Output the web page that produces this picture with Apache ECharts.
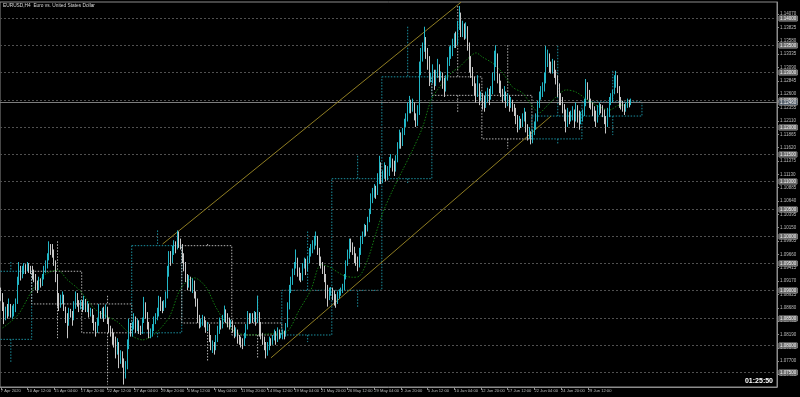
<!DOCTYPE html>
<html><head><meta charset="utf-8">
<script src="https://cdn.jsdelivr.net/npm/echarts@6/dist/echarts.min.js"></script>
<style>html,body{margin:0;padding:0;background:#000;}#c{width:800px;height:397px;}</style>
</head><body><div id="c"></div>
<script>
// ---- time axis tick labels (one every 16 H4 bars) ----
const timeLabels = ['7 Apr 2020','10 Apr 12:00','15 Apr 04:00','17 Apr 20:00','22 Apr 12:00','27 Apr 04:00','29 Apr 20:00','4 May 12:00','7 May 04:00','11 May 20:00','14 May 12:00','19 May 04:00','21 May 20:00','26 May 12:00','29 May 04:00','2 Jun 20:00','5 Jun 12:00','10 Jun 04:00','12 Jun 20:00','17 Jun 12:00','22 Jun 04:00','24 Jun 20:00','29 Jun 12:00','2 Jul 04:00'];
const slotCount = 466;
// ---- price axis labels and round levels ----
const priceTicks = [1.14070,1.13825,1.13580,1.13335,1.13090,1.12845,1.12600,1.12355,1.12110,1.11865,1.11620,1.11375,1.11130,1.10885,1.10640,1.10395,1.10150,1.09905,1.09660,1.09415,1.09170,1.08925,1.08680,1.08435,1.08190,1.07945,1.07700,1.07455];
const levels = [1.140,1.135,1.130,1.125,1.120,1.115,1.110,1.105,1.100,1.095,1.090,1.085,1.080,1.075];
const lastPrice = 1.12460;
const firstOpen = 1.0895;
// ---- H4 closes ----
const closes = [1.0890,
1.0872,1.0850,1.0862,1.0858,1.0870,1.0855, 1.0860,1.0866,1.0878,1.0915,1.0935,1.0925, 1.0935,1.0942,1.0938,1.0945,1.0940,1.0937,
1.0930,1.0925,1.0912,1.0905,1.0915,1.0913, 1.0925,1.0938,1.0945,1.0960,1.0978,1.0975, 1.0970,1.0950,1.0925,1.0885,1.0875,1.0880, 1.0890,1.0868,1.0850,1.0838,1.0860,1.0857, 1.0850,1.0872,1.0890,1.0878,1.0868,1.0875,
1.0870,1.0880,1.0868,1.0872,1.0858,1.0862, 1.0850,1.0838,1.0828,1.0840,1.0858,1.0855, 1.0860,1.0852,1.0868,1.0845,1.0830,1.0822, 1.0810,1.0808,1.0790,1.0800,1.0770,1.0780, 1.0770,1.0745,1.0760,1.0800,1.0835,1.0825,
1.0835,1.0848,1.0830,1.0840,1.0828,1.0825, 1.0845,1.0870,1.0855,1.0838,1.0815,1.0822, 1.0830,1.0845,1.0850,1.0860,1.0878,1.0872, 1.0868,1.0875,1.0890,1.0935,1.0960,1.0955, 1.0970,1.0985,1.0978,1.0995,1.0990,1.0982,
1.0960,1.0948,1.0925,1.0910,1.0920,1.0905, 1.0915,1.0895,1.0880,1.0850,1.0838,1.0840, 1.0848,1.0842,1.0830,1.0835,1.0815,1.0795, 1.0800,1.0795,1.0810,1.0825,1.0840,1.0835, 1.0848,1.0860,1.0850,1.0845,1.0835,1.0840,
1.0832,1.0820,1.0825,1.0812,1.0808,1.0805, 1.0800,1.0815,1.0830,1.0852,1.0845,1.0850, 1.0848,1.0855,1.0845,1.0852,1.0838,1.0818, 1.0810,1.0798,1.0785,1.0795,1.0808,1.0805, 1.0812,1.0820,1.0808,1.0825,1.0815,1.0818,
1.0822,1.0818,1.0835,1.0870,1.0900,1.0915, 1.0935,1.0945,1.0955,1.0935,1.0928,1.0925, 1.0945,1.0952,1.0940,1.0955,1.0970,1.0975, 1.0985,1.0990,1.0995,1.0972,1.0955,1.0948, 1.0940,1.0925,1.0900,1.0890,1.0895,1.0900,
1.0895,1.0885,1.0880,1.0890,1.0895,1.0898, 1.0905,1.0925,1.0950,1.0965,1.0985,1.0980, 1.0975,1.0962,1.0955,1.0948,1.0970,1.0990, 1.1000,1.1015,1.1010,1.1028,1.1045,1.1070, 1.1078,1.1085,1.1080,1.1100,1.1130,1.1105,
1.1112,1.1125,1.1108,1.1118,1.1135,1.1135, 1.1130,1.1122,1.1140,1.1165,1.1180,1.1170, 1.1190,1.1205,1.1215,1.1230,1.1240,1.1235, 1.1240,1.1220,1.1210,1.1225,1.1300,1.1335, 1.1345,1.1360,1.1335,1.1320,1.1290,1.1292,
1.1300,1.1280,1.1295,1.1310,1.1290,1.1295, 1.1285,1.1270,1.1290,1.1320,1.1335,1.1340, 1.1350,1.1365,1.1360,1.1385,1.1400,1.1375, 1.1385,1.1372,1.1380,1.1350,1.1320,1.1300, 1.1285,1.1270,1.1262,1.1275,1.1255,1.1258,
1.1245,1.1238,1.1250,1.1262,1.1255,1.1265, 1.1290,1.1325,1.1330,1.1290,1.1275,1.1265, 1.1255,1.1262,1.1245,1.1250,1.1240,1.1245, 1.1238,1.1230,1.1218,1.1200,1.1210,1.1205, 1.1215,1.1222,1.1200,1.1185,1.1190,1.1178,
1.1190,1.1200,1.1215,1.1240,1.1255,1.1262, 1.1270,1.1285,1.1320,1.1330,1.1312,1.1308, 1.1315,1.1300,1.1290,1.1275,1.1255,1.1250, 1.1235,1.1225,1.1210,1.1222,1.1215,1.1220, 1.1228,1.1215,1.1232,1.1225,1.1212,1.1220,
1.1225,1.1240,1.1275,1.1262,1.1245,1.1240, 1.1230,1.1222,1.1215,1.1228,1.1235,1.1234, 1.1228,1.1215,1.1205,1.1222,1.1245,1.1250, 1.1262,1.1285,1.1290,1.1270,1.1248,1.1242, 1.1235,1.1230,1.1238,1.1245,1.1242,1.1246];
// ---- H4 highs ----
const highs = [1.0905,
1.0895,1.0878,1.0870,1.0875,1.0885,1.0875, 1.0872,1.0875,1.0885,1.0925,1.0952,1.0945, 1.0945,1.0950,1.0948,1.0952,1.0950,1.0945,
1.0945,1.0938,1.0930,1.0918,1.0925,1.0922, 1.0930,1.0945,1.0955,1.0968,1.0990,1.0985, 1.0985,1.0975,1.0955,1.0930,1.0895,1.0892, 1.0898,1.0892,1.0870,1.0858,1.0868,1.0866, 1.0862,1.0880,1.0898,1.0895,1.0882,1.0882,
1.0882,1.0890,1.0884,1.0880,1.0875,1.0868, 1.0866,1.0855,1.0842,1.0850,1.0875,1.0862, 1.0868,1.0870,1.0874,1.0870,1.0850,1.0835, 1.0830,1.0822,1.0815,1.0812,1.0805,1.0790, 1.0788,1.0775,1.0770,1.0810,1.0848,1.0840,
1.0842,1.0858,1.0852,1.0848,1.0845,1.0835, 1.0850,1.0888,1.0878,1.0860,1.0842,1.0830, 1.0838,1.0852,1.0858,1.0868,1.0890,1.0888, 1.0880,1.0882,1.0898,1.0945,1.0972,1.0972, 1.0982,1.0992,1.0990,1.1010,1.1008,1.0995,
1.0985,1.0968,1.0952,1.0930,1.0928,1.0925, 1.0922,1.0918,1.0898,1.0885,1.0855,1.0848, 1.0855,1.0852,1.0845,1.0842,1.0838,1.0818, 1.0808,1.0805,1.0818,1.0835,1.0850,1.0845, 1.0855,1.0872,1.0865,1.0858,1.0850,1.0846,
1.0845,1.0836,1.0832,1.0828,1.0818,1.0815, 1.0812,1.0822,1.0838,1.0862,1.0858,1.0858, 1.0858,1.0862,1.0860,1.0890,1.0860,1.0842, 1.0822,1.0815,1.0805,1.0805,1.0815,1.0812, 1.0818,1.0828,1.0825,1.0832,1.0828,1.0822,
1.0828,1.0826,1.0840,1.0878,1.0910,1.0925, 1.0940,1.0952,1.0975,1.0960,1.0942,1.0932, 1.0950,1.0960,1.0958,1.0962,1.0978,1.0985, 1.0992,1.1000,1.1008,1.1000,1.0978,1.0962, 1.0952,1.0945,1.0930,1.0910,1.0905,1.0906,
1.0905,1.0900,1.0893,1.0898,1.0902,1.0905, 1.0912,1.0930,1.0955,1.0975,1.0995,1.0995, 1.0988,1.0980,1.0968,1.0962,1.0978,1.1000, 1.1008,1.1022,1.1020,1.1035,1.1050,1.1078, 1.1088,1.1095,1.1092,1.1115,1.1147,1.1135,
1.1120,1.1135,1.1130,1.1128,1.1145,1.1150, 1.1142,1.1138,1.1148,1.1172,1.1195,1.1190, 1.1198,1.1215,1.1225,1.1245,1.1257,1.1250, 1.1252,1.1245,1.1225,1.1240,1.1320,1.1345, 1.1355,1.1384,1.1365,1.1345,1.1330,1.1300,
1.1315,1.1305,1.1305,1.1325,1.1315,1.1302, 1.1300,1.1290,1.1295,1.1328,1.1348,1.1350, 1.1362,1.1372,1.1375,1.1395,1.1422,1.1410, 1.1395,1.1390,1.1392,1.1385,1.1355,1.1330, 1.1310,1.1292,1.1280,1.1295,1.1280,1.1265,
1.1262,1.1258,1.1265,1.1272,1.1270,1.1275, 1.1300,1.1340,1.1350,1.1335,1.1298,1.1285, 1.1270,1.1275,1.1265,1.1262,1.1258,1.1255, 1.1250,1.1242,1.1235,1.1222,1.1220,1.1215, 1.1225,1.1235,1.1228,1.1205,1.1200,1.1192,
1.1195,1.1210,1.1225,1.1248,1.1265,1.1275, 1.1282,1.1300,1.1349,1.1342,1.1335,1.1320, 1.1325,1.1322,1.1305,1.1295,1.1280,1.1262, 1.1255,1.1242,1.1232,1.1235,1.1228,1.1230, 1.1238,1.1232,1.1245,1.1240,1.1230,1.1228,
1.1232,1.1252,1.1288,1.1282,1.1268,1.1252, 1.1245,1.1238,1.1230,1.1240,1.1245,1.1242, 1.1240,1.1232,1.1220,1.1235,1.1255,1.1262, 1.1268,1.1295,1.1303,1.1295,1.1275,1.1255, 1.1248,1.1242,1.1245,1.1252,1.1250,1.1252];
// ---- H4 lows ----
const lows = [1.0880,
1.0862,1.0838,1.0845,1.0848,1.0852,1.0850, 1.0848,1.0852,1.0860,1.0875,1.0910,1.0918, 1.0922,1.0930,1.0930,1.0935,1.0932,1.0930,
1.0920,1.0915,1.0900,1.0895,1.0900,1.0905, 1.0908,1.0920,1.0932,1.0940,1.0955,1.0965, 1.0960,1.0945,1.0915,1.0870,1.0862,1.0868, 1.0875,1.0862,1.0840,1.0812,1.0835,1.0850, 1.0835,1.0845,1.0866,1.0870,1.0860,1.0865,
1.0860,1.0864,1.0860,1.0860,1.0850,1.0852, 1.0840,1.0826,1.0815,1.0822,1.0835,1.0848, 1.0848,1.0842,1.0848,1.0838,1.0822,1.0815, 1.0800,1.0795,1.0775,1.0782,1.0757,1.0765, 1.0758,1.0727,1.0738,1.0755,1.0792,1.0815,
1.0815,1.0828,1.0822,1.0825,1.0820,1.0818, 1.0820,1.0840,1.0848,1.0828,1.0812,1.0812, 1.0815,1.0825,1.0838,1.0845,1.0852,1.0862, 1.0858,1.0862,1.0868,1.0885,1.0925,1.0945, 1.0950,1.0965,1.0968,1.0975,1.0978,1.0975,
1.0950,1.0935,1.0915,1.0900,1.0905,1.0898, 1.0895,1.0885,1.0870,1.0840,1.0830,1.0832, 1.0835,1.0832,1.0822,1.0825,1.0805,1.0790, 1.0785,1.0782,1.0790,1.0805,1.0820,1.0828, 1.0830,1.0842,1.0840,1.0832,1.0828,1.0832,
1.0822,1.0812,1.0815,1.0802,1.0800,1.0795, 1.0792,1.0798,1.0812,1.0828,1.0838,1.0840, 1.0840,1.0842,1.0835,1.0840,1.0815,1.0810, 1.0800,1.0790,1.0775,1.0780,1.0790,1.0798, 1.0800,1.0808,1.0800,1.0805,1.0810,1.0812,
1.0810,1.0810,1.0815,1.0832,1.0865,1.0895, 1.0910,1.0928,1.0940,1.0925,1.0918,1.0915, 1.0918,1.0940,1.0928,1.0935,1.0950,1.0962, 1.0968,1.0975,1.0982,1.0965,1.0945,1.0940, 1.0930,1.0915,1.0885,1.0870,1.0882,1.0890,
1.0882,1.0872,1.0868,1.0875,1.0885,1.0890, 1.0895,1.0900,1.0920,1.0945,1.0958,1.0970, 1.0965,1.0950,1.0945,1.0935,1.0942,1.0965, 1.0985,1.0998,1.1000,1.1008,1.1025,1.1040, 1.1060,1.1070,1.1068,1.1075,1.1095,1.1095,
1.1097,1.1105,1.1100,1.1102,1.1110,1.1125, 1.1118,1.1110,1.1118,1.1135,1.1160,1.1160, 1.1165,1.1185,1.1200,1.1210,1.1225,1.1225, 1.1228,1.1212,1.1200,1.1202,1.1222,1.1295, 1.1320,1.1338,1.1325,1.1305,1.1275,1.1282,
1.1280,1.1268,1.1275,1.1290,1.1282,1.1285, 1.1270,1.1255,1.1265,1.1285,1.1312,1.1325, 1.1330,1.1345,1.1345,1.1350,1.1378,1.1365, 1.1365,1.1360,1.1362,1.1340,1.1300,1.1290, 1.1275,1.1258,1.1245,1.1255,1.1240,1.1248,
1.1232,1.1228,1.1235,1.1245,1.1240,1.1250, 1.1260,1.1285,1.1310,1.1280,1.1262,1.1255, 1.1245,1.1248,1.1235,1.1238,1.1228,1.1235, 1.1228,1.1220,1.1205,1.1190,1.1195,1.1198, 1.1200,1.1210,1.1190,1.1175,1.1178,1.1168,
1.1170,1.1185,1.1195,1.1210,1.1235,1.1250, 1.1255,1.1265,1.1280,1.1310,1.1300,1.1298, 1.1298,1.1290,1.1278,1.1255,1.1240,1.1240, 1.1225,1.1210,1.1190,1.1200,1.1205,1.1210, 1.1212,1.1198,1.1210,1.1208,1.1195,1.1205,
1.1210,1.1220,1.1238,1.1250,1.1235,1.1232, 1.1220,1.1210,1.1200,1.1208,1.1222,1.1225, 1.1218,1.1205,1.1188,1.1200,1.1218,1.1240, 1.1245,1.1260,1.1272,1.1262,1.1235,1.1232, 1.1228,1.1222,1.1228,1.1235,1.1236,1.1240];
// ---- weekly candles overlay: [firstBar, lastBar, open, close, high, low] ----
const weeks = [
[-7,18,1.0810,1.0935,1.0952,1.0768],
[19,48,1.0935,1.0875,1.0990,1.0812],
[49,78,1.0875,1.0822,1.0890,1.0727],
[79,108,1.0822,1.0982,1.1010,1.0812],
[109,138,1.0982,1.0840,1.0985,1.0770],
[139,168,1.0840,1.0818,1.0890,1.0775],
[169,198,1.0818,1.0900,1.1008,1.0805],
[199,228,1.0900,1.1105,1.1147,1.0868],
[229,258,1.1105,1.1292,1.1384,1.1097],
[259,288,1.1292,1.1258,1.1422,1.1225],
[289,318,1.1258,1.1178,1.1350,1.1160],
[319,348,1.1178,1.1220,1.1349,1.1168],
[349,384,1.1220,1.1246,1.1303,1.1185]];
// ---- moving average ----
const maPoints = [[1,1.0831],[5,1.0840],[11,1.0858],[19,1.0901],[26,1.0928],[34,1.0937],[40,1.0919],[47,1.0901],[57,1.0864],[70,1.0842],[75,1.0827],[80,1.0814],[85,1.0809],[93,1.0822],[101,1.0851],[108,1.0904],[116,1.0923],[123,1.0906],[129,1.0869],[135,1.0840],[141,1.0823],[149,1.0818],[161,1.0820],[171,1.0823],[179,1.0864],[186,1.0901],[192,1.0947],[197,1.0943],[205,1.0928],[211,1.0924],[215,1.0926],[220,1.0956],[225,1.1005],[229,1.1042],[235,1.1084],[241,1.1121],[247,1.1158],[253,1.1200],[258,1.1249],[263,1.1273],[270,1.1299],[275,1.1310],[281,1.1328],[285,1.1336],[289,1.1328],[295,1.1317],[301,1.1299],[307,1.1273],[313,1.1262],[319,1.1237],[323,1.1226],[327,1.1237],[333,1.1255],[339,1.1268],[345,1.1264],[352,1.1249],[359,1.1237],[365,1.1231],[371,1.1240],[377,1.1240]];
// ---- trend channel ----
const upperChannel = [[97,1.0985],[276,1.1429]];
const lowerChannel = [[162,1.0776],[330,1.1220]];

const categories = [];
for (let i = 0; i < slotCount; i++) categories.push(i % 16 === 0 && timeLabels[i / 16] ? timeLabels[i / 16] : '');
const candles = closes.map((c, i) => {
  const o = i === 0 ? firstOpen : closes[i - 1];
  return [o, c, Math.min(lows[i], o, c), Math.max(highs[i], o, c)];
});
const levelRows = levels.map(v => [v, 0]).concat([[lastPrice, 1]]);

const TEAL = '#1a8e9e', GRAY = '#b0b0b0';
const FONT = 'Liberation Sans';
const chart = echarts.init(document.getElementById('c'), null, {renderer: 'canvas'});
chart.setOption({
  backgroundColor: '#000000',
  animation: false,
  title: {text: 'EURUSD,H4  Euro vs. United States Dollar', left: 3, top: 3, padding: 0,
    textStyle: {color: '#d8d8d8', fontSize: 4.8, fontWeight: 'normal', fontFamily: FONT}},
  graphic: [{type: 'text', right: 27, top: 378, style: {text: '01:25:50', fill: '#ffffff', font: 'bold 7px ' + FONT}}],
  grid: {left: 0, top: 2, right: 23, bottom: 10, show: true, borderColor: '#8c8c8c', borderWidth: 1, containLabel: false, outerBoundsMode: 'none'},
  xAxis: {type: 'category', data: categories, boundaryGap: true,
    axisLine: {show: true, lineStyle: {color: '#8c8c8c'}},
    axisTick: {show: true, length: 3, alignWithLabel: true, interval: (i, v) => v !== '', lineStyle: {color: '#8c8c8c'}},
    axisLabel: {interval: (i, v) => v !== '', align: 'left', margin: 2, color: '#bdbdbd', showMinLabel: true, showMaxLabel: false, hideOverlap: false,
      fontSize: 4.1, fontFamily: FONT},
    splitLine: {show: false}},
  yAxis: {type: 'value', position: 'right', min: 1.07225, max: 1.14294, scale: true,
    axisLine: {show: true, lineStyle: {color: '#8c8c8c'}},
    axisTick: {show: true, length: 2, customValues: priceTicks, lineStyle: {color: '#8c8c8c'}},
    axisLabel: {customValues: priceTicks, formatter: v => v.toFixed(5), margin: 3, color: '#bdbdbd', fontSize: 4.5, fontFamily: FONT},
    splitLine: {show: false}},
  series: [
    {type: 'custom', name: 'levels', data: levelRows, clip: false, z: 2, silent: true,
      encode: {y: 0},
      renderItem: (params, api) => {
        const v = api.value(0), isLast = api.value(1) === 1;
        const y = Math.round(api.coord([0, v])[1]) + 0.5;
        const cs = params.coordSys;
        return {type: 'group', children: [
          {type: 'line', shape: {x1: cs.x, y1: y, x2: cs.x + cs.width, y2: y},
            style: {stroke: isLast ? '#7c7c7c' : '#505050', lineWidth: 1, lineDash: isLast ? null : [2, 2]}},
          {type: 'text', x: cs.x + cs.width + 2, y: y, z2: 10,
            style: {text: v.toFixed(5), fill: '#f4f4f4', font: '4.5px ' + FONT, verticalAlign: 'middle', align: 'left',
              backgroundColor: isLast ? '#56606c' : '#6a6a6a', borderColor: '#a0a0a0', borderWidth: 0.5, padding: [0, 1]}}
        ]};
      }},
    {type: 'custom', name: 'weekly', data: weeks, clip: true, z: 1, silent: true,
      encode: {x: [0, 1], y: [2, 3, 4, 5]},
      renderItem: (params, api) => {
        const s = api.value(0), e = api.value(1), o = api.value(2), c = api.value(3), h = api.value(4), l = api.value(5);
        const bw = api.size([1, 0])[0];
        const x0 = api.coord([s, o])[0] - bw / 2, x1 = api.coord([e, o])[0] + bw / 2;
        const yo = api.coord([s, o])[1], yc = api.coord([s, c])[1], yh = api.coord([s, h])[1], yl = api.coord([s, l])[1];
        const xm = api.coord([(s + e) / 2, o])[0];
        const col = c >= o ? TEAL : GRAY;
        const st = {stroke: col, lineWidth: 1, lineDash: [1.5, 1.5], fill: null};
        const top = Math.min(yo, yc), bot = Math.max(yo, yc);
        const left = Math.max(x0, params.coordSys.x + 0.5);
        const pts = x0 < params.coordSys.x ? [[left, top], [x1, top], [x1, bot], [left, bot]]
                                             : [[x0, top], [x1, top], [x1, bot], [x0, bot], [x0, top]];
        return {type: 'group', children: [
          {type: 'polyline', shape: {points: pts}, style: st},
          {type: 'line', shape: {x1: xm, y1: yh, x2: xm, y2: top}, style: st},
          {type: 'line', shape: {x1: xm, y1: bot, x2: xm, y2: yl}, style: st}
        ]};
      }},
    {type: 'line', name: 'upper', data: upperChannel, showSymbol: false, symbol: 'none', z: 3, silent: true,
      lineStyle: {color: '#8f7d22', width: 1}},
    {type: 'line', name: 'lower', data: lowerChannel, showSymbol: false, symbol: 'none', z: 3, silent: true,
      lineStyle: {color: '#8f7d22', width: 1}},
    {type: 'line', name: 'MA', data: maPoints, showSymbol: false, symbol: 'none', smooth: 0.3, z: 4, silent: true,
      lineStyle: {color: '#127a12', width: 1, type: [1.5, 1.5]}},
    {type: 'candlestick', name: 'EURUSD', data: candles, barWidth: 1, z: 5,
      itemStyle: {color: '#22b6c6', color0: '#e6e6e6', borderColor: '#22b6c6', borderColor0: '#c8c8c8', borderWidth: 1}}
  ]
});
</script></body></html>
